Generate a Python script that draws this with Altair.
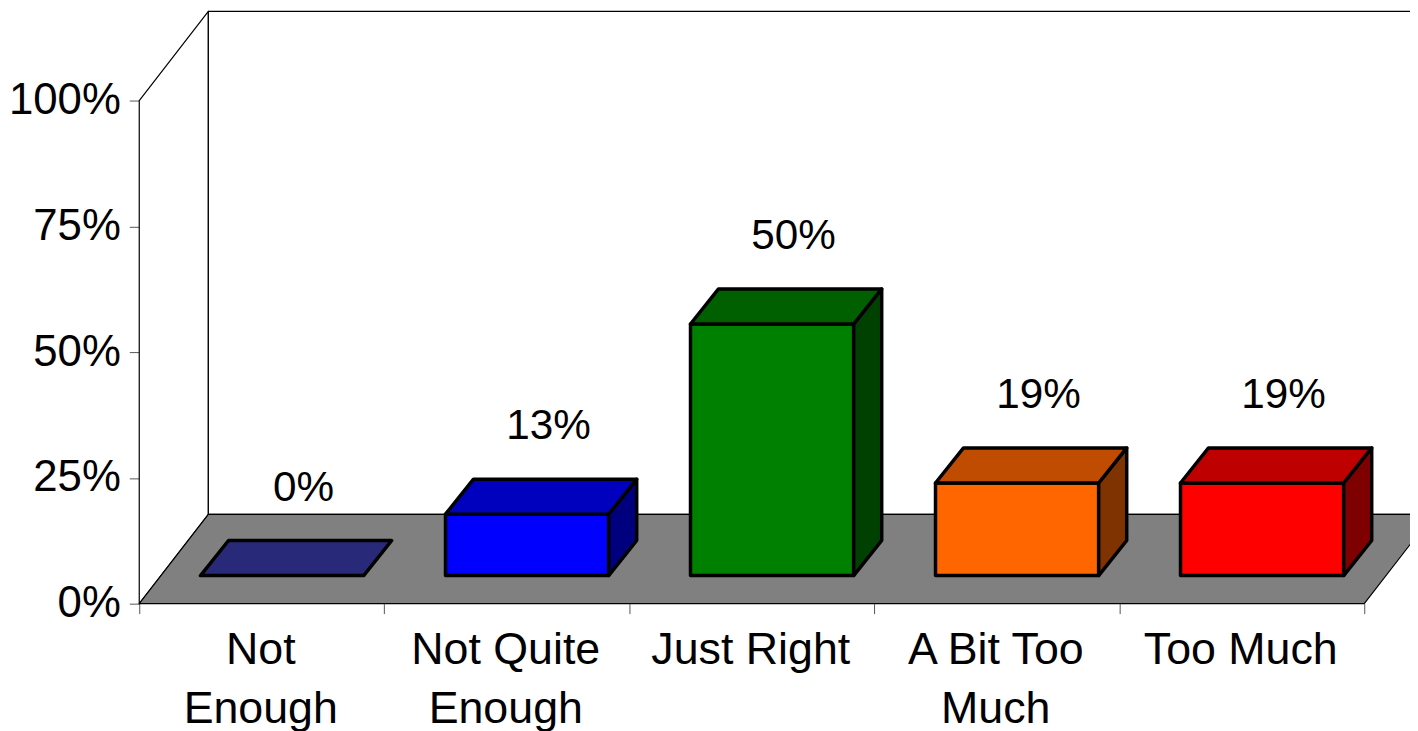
import altair as alt
import pandas as pd

categories = ["Not\nEnough", "Not Quite\nEnough", "Just Right", "A Bit Too\nMuch", "Too Much"]
values = [0, 12.2, 50, 18.4, 18.4]
value_labels = ["0%", "13%", "50%", "19%", "19%"]
front_colors = ["#29297a", "#0000ff", "#008000", "#ff6600", "#ff0000"]
top_colors = ["#29297a", "#0000bf", "#006000", "#bf4c00", "#bf0000"]
side_colors = ["#29297a", "#00007f", "#004000", "#7f3300", "#7f0000"]
y_ticks = [0, 25, 50, 75, 100]
x_ticks = [0, 1, 2, 3, 4, 5]

# 3-D projection, in data units (x: categories, y: percent)
WALL_DX, WALL_DY = 0.282, 17.73
BAR_DX, BAR_DY = 0.1144, 6.97
BAR_X0, BAR_W = 0.25, 0.666
BASE_Y = 5.58

polys = []


def add(name, pts, fill, sw):
    for i, (x, y) in enumerate(pts + pts[:2]):
        polys.append(dict(poly=name, i=i, x=x, y=y, fill=fill, sw=sw))


add("wall_left", [(0, 0), (0, 100), (WALL_DX, 100 + WALL_DY), (WALL_DX, WALL_DY)], "#ffffff", 1.2)
add("wall_back", [(WALL_DX, WALL_DY), (WALL_DX, 100 + WALL_DY), (5 + WALL_DX, 100 + WALL_DY), (5 + WALL_DX, WALL_DY)], "#ffffff", 1.2)
add("floor", [(0, 0), (5, 0), (5 + WALL_DX, WALL_DY), (WALL_DX, WALL_DY)], "#808080", 1.2)

for k, v in enumerate(values):
    x0 = k + BAR_X0
    x1 = x0 + BAR_W
    y0 = BASE_Y
    y1 = BASE_Y + v
    if v > 0:
        add(f"b{k}_front", [(x0, y0), (x1, y0), (x1, y1), (x0, y1)], front_colors[k], 3.5)
        add(f"b{k}_side", [(x1, y0), (x1 + BAR_DX, y0 + BAR_DY), (x1 + BAR_DX, y1 + BAR_DY), (x1, y1)], side_colors[k], 3.5)
    add(f"b{k}_top", [(x0, y1), (x1, y1), (x1 + BAR_DX, y1 + BAR_DY), (x0 + BAR_DX, y1 + BAR_DY)], top_colors[k], 3.5)

poly_df = pd.DataFrame(polys)
FONT = "Liberation Sans"

x_scale = alt.Scale(domain=[0, 5], nice=False, zero=False)
y_scale = alt.Scale(domain=[0, 100], nice=False)

axes = (
    alt.Chart(pd.DataFrame({"x": [0.0], "y": [0.0]}))
    .mark_point(opacity=0)
    .encode(
        x=alt.X(
            "x:Q", scale=x_scale, title=None,
            axis=alt.Axis(values=x_ticks, labels=False, domain=False, grid=False, tickSize=10, tickColor="#555555", tickWidth=1),
        ),
        y=alt.Y(
            "y:Q", scale=y_scale, title=None,
            axis=alt.Axis(values=y_ticks, labelExpr="datum.value + '%'", labelFont=FONT, labelFontSize=44, labelColor="#000000",
                          labelPadding=9, domain=False, grid=False, tickSize=10, tickColor="#555555", tickWidth=1),
        ),
    )
)

layers = [axes]
for name in poly_df.poly.unique():
    d = poly_df[poly_df.poly == name]
    layers.append(
        alt.Chart(d)
        .mark_line(stroke="#000000", strokeWidth=float(d.sw.iloc[0]), fill=d.fill.iloc[0], strokeJoin="round", clip=False)
        .encode(
            x=alt.X("x:Q", scale=x_scale, axis=None),
            y=alt.Y("y:Q", scale=y_scale, axis=None),
            order="i:Q",
        )
    )

cat_df = pd.DataFrame({"x": [i + 0.5 for i in range(5)], "t": categories})
cat_text = (
    alt.Chart(cat_df)
    .mark_text(font=FONT, fontSize=45, color="#000000", lineBreak="\n", lineHeight=59.3, baseline="alphabetic", align="center", dx=-1)
    .encode(x=alt.X("x:Q", scale=x_scale, axis=None), y=alt.value(567), text="t:N")
)

lab_df = pd.DataFrame({"x": [i + 0.5 for i in range(5)], "y": [BASE_Y + v + BAR_DY for v in values], "t": value_labels})
val_text = (
    alt.Chart(lab_df)
    .mark_text(font=FONT, fontSize=42.5, color="#000000", baseline="alphabetic", align="center", dx=42, dy=-40)
    .encode(x=alt.X("x:Q", scale=x_scale, axis=None), y=alt.Y("y:Q", scale=y_scale, axis=None), text="t:N")
)

chart = (
    alt.layer(*layers, cat_text, val_text)
    .resolve_axis(x="independent", y="independent")
    .properties(
        width=1232, height=506,
        padding={"left": 132, "top": 91, "right": 46, "bottom": 126},
        autosize=alt.AutoSizeParams(type="none"),
    )
    .configure_view(stroke=None)
)

chart.save("out.html", embed_options={"renderer": "svg", "actions": False})
